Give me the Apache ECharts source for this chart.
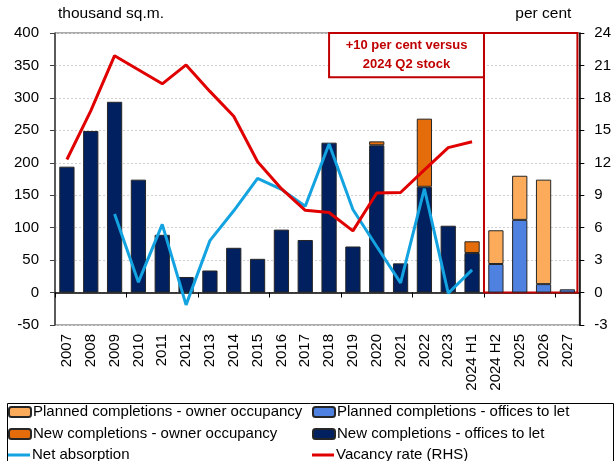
<!DOCTYPE html>
<html>
<head>
<meta charset="utf-8">
<script src="https://cdn.jsdelivr.net/npm/echarts@6/dist/echarts.min.js"></script>
<style>
  html, body { margin: 0; padding: 0; background: #fff; }
  #main { width: 614px; height: 461px; }
</style>
</head>
<body>
<div id="main"></div>
<script>
// categories on the x axis
const categories = ['2007', '2008', '2009', '2010', '2011', '2012', '2013', '2014', '2015', '2016',
    '2017', '2018', '2019', '2020', '2021', '2022', '2023', '2024 H1', '2024 H2', '2025', '2026', '2027'];

// thousand sq.m. (left axis)
const newLet = [194, 249, 294, 174, 89, 24, 34, 69, 52, 97, 81, 231, 71, 227, 45, 163, 103, 61, null, null, null, null];
const newOwner = [null, null, null, null, null, null, null, null, null, null, null, null, null, 6, null, 105, null, 18, null, null, null, null];
const plannedLet = [null, null, null, null, null, null, null, null, null, null, null, null, null, null, null, null, null, null, 44, 112, 13, 5];
const plannedOwner = [null, null, null, null, null, null, null, null, null, null, null, null, null, null, null, null, null, null, 52, 68, 161, null];
const netAbsorption = [null, null, 121, 16, 105, -19, 80, 126, 176, 159, 133, 229, 128, 71, 15, 160, -1, 35, null, null, null, null];

// per cent (right axis)
const vacancy = [12.3, 16.8, 21.9, 20.6, 19.3, 21.05, 18.6, 16.3, 12.1, 9.6, 7.6, 7.4, 5.7, 9.2, 9.25, 11.35, 13.4, 13.95, null, null, null, null];

// axis ticks
const leftTicks = { min: -50, max: 400, interval: 50 };
const rightTicks = { min: -3, max: 24, interval: 3 };

const NAMES = {
    plannedOwner: 'Planned completions - owner occupancy',
    plannedLet: 'Planned completions - offices to let',
    newOwner: 'New completions - owner occupancy',
    newLet: 'New completions - offices to let',
    net: 'Net absorption',
    vacancy: 'Vacancy rate (RHS)'
};

const FONT = 'Liberation Sans';
const chart = echarts.init(document.getElementById('main'));

const barBorder = { borderColor: '#262626', borderWidth: 1 };

// one legend block; bars use a box icon, lines a thin bar
function legendBlock(left, top, names, isLine) {
    return {
        orient: 'vertical', left: left, top: top, padding: 0, itemGap: 4,
        width: 300, height: 60,
        itemWidth: 22, itemHeight: isLine ? 3 : 10,
        icon: isLine ? 'rect' : undefined,
        textStyle: { fontSize: 15, lineHeight: 18, fontFamily: FONT, color: '#000', padding: [0, 0, 0, -3] },
        data: names
    };
}

const option = {
    animation: false,
    textStyle: { fontFamily: FONT, color: '#000' },
    grid: {
        left: 55, right: 33, top: 33, bottom: 136,
        show: true, borderColor: '#595959', borderWidth: 1
    },
    legend: [
        legendBlock(8, 403, [NAMES.plannedOwner, NAMES.newOwner], false),
        legendBlock(312, 403, [NAMES.plannedLet, NAMES.newLet], false),
        legendBlock(8, 446, [NAMES.net], true),
        legendBlock(312, 446, [NAMES.vacancy], true)
    ],
    graphic: [{
        type: 'rect', left: 5, top: 401,
        shape: { width: 606, height: 80 },
        style: { fill: 'none', stroke: '#000', lineWidth: 1 }
    }],
    xAxis: [
        {
            // zero line with ticks
            type: 'category', data: categories,
            axisLine: { onZero: true, lineStyle: { color: '#000', width: 1.5 } },
            axisTick: { show: true, length: 5, lineStyle: { color: '#000' } },
            axisLabel: { show: false }
        },
        {
            // labels at the bottom
            type: 'category', data: categories, position: 'bottom',
            axisLine: { show: false, onZero: false },
            axisTick: { show: false },
            axisLabel: { rotate: 90, fontSize: 15, color: '#000', margin: 9, interval: 0 }
        },
        {
            // helper value axis for the annotation boxes
            type: 'value', min: 0, max: 22, show: false
        }
    ],
    yAxis: [
        {
            type: 'value', ...leftTicks,
            name: 'thousand sq.m.', nameLocation: 'end', nameGap: 11,
            nameTextStyle: { fontSize: 15.5, color: '#000', align: 'left', padding: [0, 0, 0, 3] },
            axisLine: { show: true, lineStyle: { color: '#404040', width: 1.5 } },
            axisTick: { show: true, length: 5, lineStyle: { color: '#404040' } },
            axisLabel: { fontSize: 15, color: '#000', margin: 16 },
            splitLine: { lineStyle: { color: '#d0d0d0', type: [2, 2] } }
        },
        {
            type: 'value', ...rightTicks, position: 'right',
            name: 'per cent', nameLocation: 'end', nameGap: 11,
            nameTextStyle: { fontSize: 15.5, color: '#000', align: 'right', padding: [0, 8, 0, 0] },
            axisLine: { show: true, lineStyle: { color: '#000', width: 1.5 } },
            axisTick: { show: true, length: 5, lineStyle: { color: '#000' } },
            axisLabel: { fontSize: 15, color: '#000', margin: 15 },
            splitLine: { show: false }
        }
    ],
    series: [
        {
            name: NAMES.newLet, type: 'bar', stack: 'a', data: newLet, barWidth: '64%',
            itemStyle: { color: '#002060', ...barBorder }
        },
        {
            name: NAMES.newOwner, type: 'bar', stack: 'a', data: newOwner, barWidth: '64%',
            itemStyle: { color: '#e46c0a', ...barBorder }
        },
        {
            name: NAMES.plannedLet, type: 'bar', stack: 'a', data: plannedLet, barWidth: '64%',
            itemStyle: { color: '#4f81e0', ...barBorder }
        },
        {
            name: NAMES.plannedOwner, type: 'bar', stack: 'a', data: plannedOwner, barWidth: '64%',
            itemStyle: { color: '#fbab5a', ...barBorder }
        },
        {
            name: NAMES.net, type: 'line', data: netAbsorption, symbol: 'none',
            lineStyle: { color: '#13a3e0', width: 3 }, itemStyle: { color: '#13a3e0' }
        },
        {
            name: NAMES.vacancy, type: 'line', yAxisIndex: 1, data: vacancy, symbol: 'none',
            lineStyle: { color: '#e00000', width: 3 }, itemStyle: { color: '#e00000' }
        },
        {
            // annotation boxes
            type: 'line', xAxisIndex: 2, yAxisIndex: 1, data: [], silent: true,
            markArea: {
                silent: true,
                data: [
                    [
                        { xAxis: 18, yAxis: 0, itemStyle: { color: 'rgba(0,0,0,0)', borderColor: '#c00000', borderWidth: 2 } },
                        { xAxis: 21.92, yAxis: 24 }
                    ],
                    [
                        {
                            name: '+10 per cent versus\n2024 Q2 stock',
                            xAxis: 11.5, yAxis: 24,
                            itemStyle: { color: '#fff', borderColor: '#c00000', borderWidth: 2 },
                            label: {
                                show: true, position: 'inside', color: '#c00000',
                                fontWeight: 'bold', fontSize: 13, lineHeight: 19, fontFamily: FONT
                            }
                        },
                        { xAxis: 18, yAxis: 19.9 }
                    ]
                ]
            }
        }
    ]
};

chart.setOption(option);
window.addEventListener('resize', function () {
    chart.resize();
});
</script>
</body>
</html>
